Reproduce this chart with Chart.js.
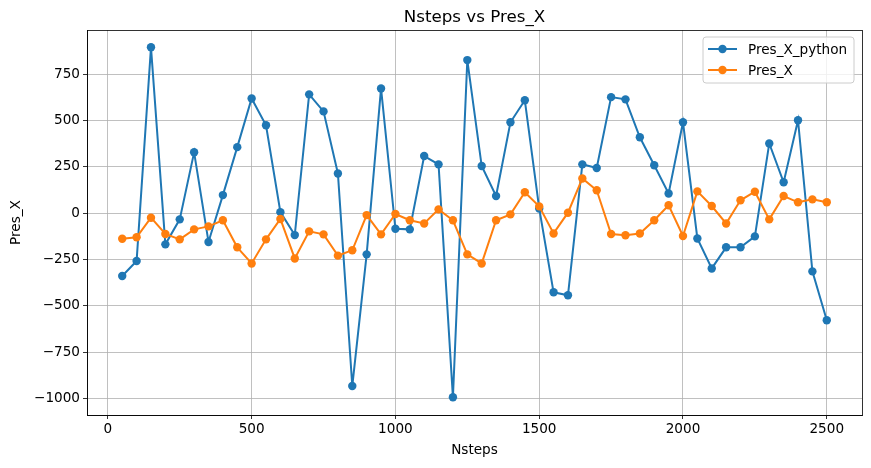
<!DOCTYPE html>
<html>
<head>
<meta charset="utf-8">
<script src="https://cdn.jsdelivr.net/npm/chart.js@4.4.0/dist/chart.umd.min.js"></script>
<style>
html,body{margin:0;padding:0;background:#fff;}
#wrap{width:871px;height:468px;position:relative;}
</style>
</head>
<body>
<div id="wrap"><canvas id="c" width="871" height="468"></canvas></div>
<script>
const chartTitle = "Nsteps vs Pres_X";
const xLabel = "Nsteps";
const yLabel = "Pres_X";
const nsteps = [50,100,150,200,250,300,350,400,450,500,550,600,650,700,750,800,850,900,950,1000,
  1050,1100,1150,1200,1250,1300,1350,1400,1450,1500,1550,1600,1650,1700,1750,1800,1850,1900,1950,2000,
  2050,2100,2150,2200,2250,2300,2350,2400,2450,2500];
const presXPython = [-339,-258,896,-168,-33,329,-155,98,357,620,475,6,-118,642,550,215,-933,-222,674,-84,
  -87,309,264,-994,827,255,93,491,610,26,-427,-443,264,244,627,615,410,259,107,491,
  -136,-298,-184,-184,-125,377,167,502,-314,-578];
const presX = [-138,-130,-24,-112,-141,-87,-71,-38,-184,-271,-141,-31,-244,-98,-114,-229,-200,-10,-114,-4,
  -38,-55,21,-38,-222,-271,-38,-6,113,37,-109,3,188,124,-112,-119,-109,-38,43,-123,
  118,39,-55,70,116,-33,93,59,75,59];
const xTicks = [0,500,1000,1500,2000,2500];
const yTicks = [-1000,-750,-500,-250,0,250,500,750];
const seriesNames = ["Pres_X_python","Pres_X"];
const seriesColors = ["#1f77b4","#ff7f0e"];

const FONT = "DejaVu Sans";

const decor = {
  id: 'decor',
  afterDraw(chart) {
    const ctx = chart.ctx;
    const a = chart.chartArea;
    ctx.save();
    // frame
    ctx.strokeStyle = '#000';
    ctx.lineWidth = 0.8;
    ctx.strokeRect(Math.round(a.left)+0.5, Math.round(a.top)+0.5, Math.round(a.right-a.left), Math.round(a.bottom-a.top));
    // title
    ctx.fillStyle = '#000';
    ctx.font = '16.7px "' + FONT + '"';
    ctx.textAlign = 'center';
    ctx.textBaseline = 'alphabetic';
    ctx.fillText(chartTitle, (a.left + a.right) / 2, a.top - 8);
    // legend
    const bw = 151, bh = 46;
    const bx = a.right - 8 - bw, by = a.top + 7;
    const r = 3;
    ctx.beginPath();
    ctx.moveTo(bx + r, by);
    ctx.lineTo(bx + bw - r, by);
    ctx.quadraticCurveTo(bx + bw, by, bx + bw, by + r);
    ctx.lineTo(bx + bw, by + bh - r);
    ctx.quadraticCurveTo(bx + bw, by + bh, bx + bw - r, by + bh);
    ctx.lineTo(bx + r, by + bh);
    ctx.quadraticCurveTo(bx, by + bh, bx, by + bh - r);
    ctx.lineTo(bx, by + r);
    ctx.quadraticCurveTo(bx, by, bx + r, by);
    ctx.closePath();
    ctx.fillStyle = 'rgba(255,255,255,0.8)';
    ctx.fill();
    ctx.strokeStyle = '#cccccc';
    ctx.lineWidth = 1;
    ctx.stroke();
    chart.data.datasets.forEach((ds, i) => {
      const cy = by + 12 + i * 21;
      ctx.strokeStyle = ds.borderColor;
      ctx.lineWidth = 2;
      ctx.beginPath();
      ctx.moveTo(bx + 5, cy);
      ctx.lineTo(bx + 34, cy);
      ctx.stroke();
      ctx.fillStyle = ds.backgroundColor;
      ctx.beginPath();
      ctx.arc(bx + 19.5, cy, 4.2, 0, Math.PI * 2);
      ctx.fill();
      ctx.fillStyle = '#000';
      ctx.font = '13.6px "' + FONT + '"';
      ctx.textAlign = 'left';
      ctx.textBaseline = 'middle';
      ctx.fillText(ds.label, bx + 45, cy + 1);
    });
    ctx.restore();
  }
};

const minus = v => String(v).replace('-', '\u2212');

new Chart(document.getElementById('c'), {
  type: 'line',
  data: {
    datasets: [
      {
        label: seriesNames[0],
        data: nsteps.map((x, i) => ({x: x, y: presXPython[i]})),
        borderColor: seriesColors[0], backgroundColor: seriesColors[0],
        borderWidth: 2, pointRadius: 4.2, pointHoverRadius: 4.2, pointBorderWidth: 0,
        tension: 0, order: 1
      },
      {
        label: seriesNames[1],
        data: nsteps.map((x, i) => ({x: x, y: presX[i]})),
        borderColor: seriesColors[1], backgroundColor: seriesColors[1],
        borderWidth: 2, pointRadius: 4.2, pointHoverRadius: 4.2, pointBorderWidth: 0,
        tension: 0, order: 0
      }
    ]
  },
  options: {
    responsive: false,
    animation: false,
    events: [],
    layout: { padding: { left: 0, right: 9, top: 30, bottom: 0 } },
    plugins: { legend: { display: false }, title: { display: false }, tooltip: { enabled: false } },
    scales: {
      x: {
        type: 'linear',
        min: -72.5, max: 2622.5,
        afterBuildTicks: s => { s.ticks = xTicks.map(v => ({value: v})); },
        afterFit: s => { s.height = 53; },
        ticks: { color: '#000', font: { family: FONT, size: 13.6 }, padding: 2, maxRotation: 0, callback: v => minus(v) },
        grid: { color: '#b0b0b0', lineWidth: 0.8, tickColor: '#000', tickLength: 4, drawOnChartArea: true },
        border: { display: true, color: '#000', width: 0.8 },
        title: { display: true, text: xLabel, color: '#000', font: { family: FONT, size: 13.6 }, padding: { top: 0, bottom: 9 } }
      },
      y: {
        type: 'linear',
        min: -1089.5, max: 989.5,
        afterBuildTicks: s => { s.ticks = yTicks.map(v => ({value: v})); },
        afterFit: s => { s.width = 87; },
        ticks: { color: '#000', font: { family: FONT, size: 13.6 }, padding: 3, callback: v => minus(v) },
        grid: { color: '#b0b0b0', lineWidth: 0.8, tickColor: '#000', tickLength: 4 },
        border: { display: true, color: '#000', width: 0.8 },
        title: { display: true, text: yLabel, color: '#000', font: { family: FONT, size: 13.6 }, padding: { top: 8, bottom: 0 } }
      }
    }
  },
  plugins: [decor]
});
</script>
</body>
</html>
